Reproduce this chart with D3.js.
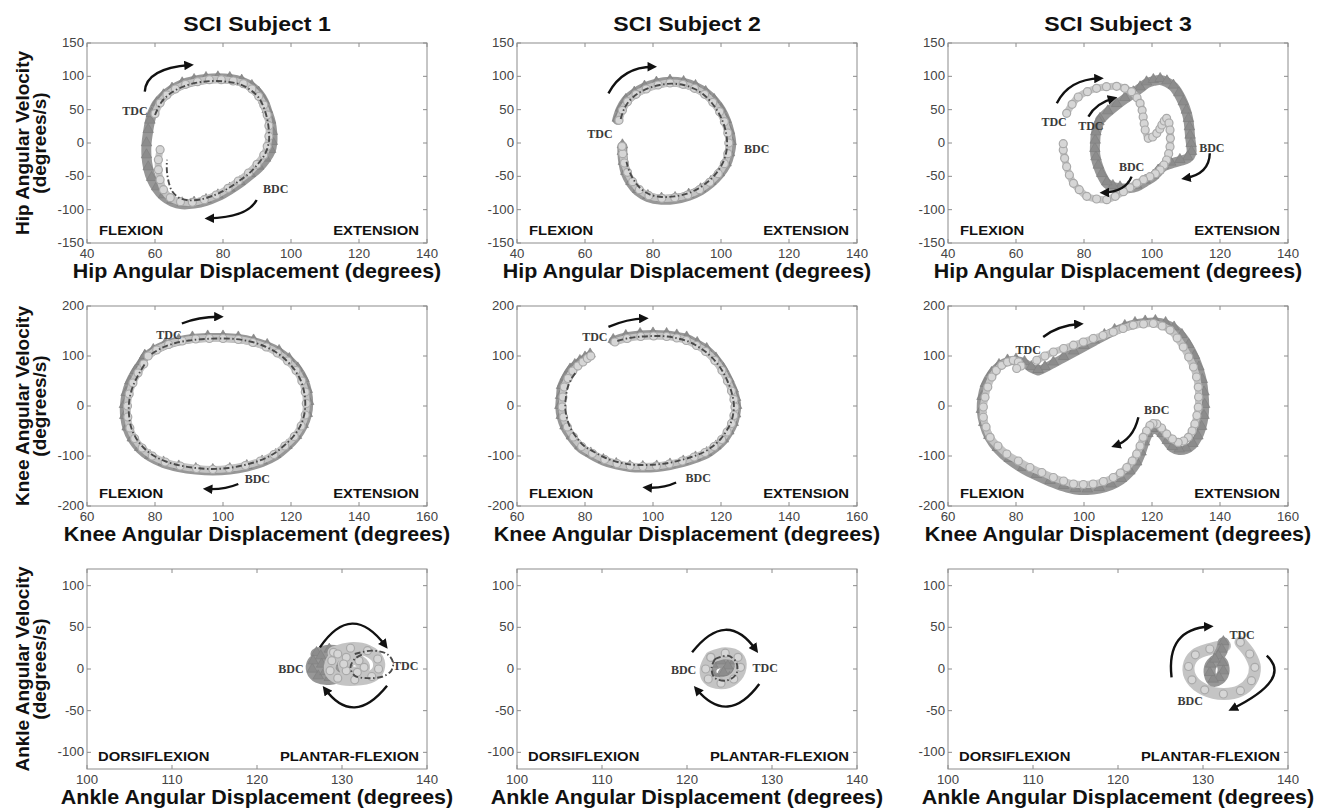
<!DOCTYPE html>
<html><head><meta charset="utf-8">
<script src="https://cdn.jsdelivr.net/npm/d3@7"></script>
<style>body{margin:0;background:#fff}svg{display:block}</style>
</head><body><svg id="c" width="1321" height="808"></svg>
<script>
// ---------- tick labels ----------
const subjects = ["SCI Subject 1", "SCI Subject 2", "SCI Subject 3"];
const hipXTicks = [40, 60, 80, 100, 120, 140];
const hipYTicks = [-150, -100, -50, 0, 50, 100, 150];
const kneeXTicks = [60, 80, 100, 120, 140, 160];
const kneeYTicks = [-200, -100, 0, 100, 200];
const ankleXTicks = [100, 110, 120, 130, 140];
const ankleYTicks = [-100, -50, 0, 50, 100];

// ---------- series: [angle (deg), angular velocity (deg/s)] ----------
const hip1Tri = [[59,42],[60.5,58],[62.5,70],[65,80],[68,88],[71.5,93],[75,96],[78.5,97],[82,96],[85.5,92],[88.5,84],[90.5,74],[92,62],[93,48],[94,32],[94.5,15],[94.5,0],[94,-12],[92.5,-25],[90.5,-37],[88,-48],[85,-60],[82,-70],[78.5,-80],[75,-87],[71.5,-91],[68,-92],[65,-88],[62.5,-80],[60.5,-68],[59,-54],[58,-38],[57.5,-20],[57.5,-2],[58,18],[58.5,32],[59,42]];
const hip1Circ = [[60,44],[61.5,60],[63.5,72],[66,81],[69,88],[72.5,92],[76,95],[79.5,95],[83,93],[86,89],[88.5,81],[90.5,70],[92,57],[93,42],[93.5,26],[93.5,10],[93,-5],[92,-18],[90,-32],[87.5,-45],[84.5,-57],[81.5,-68],[78,-78],[74.5,-85],[71,-89],[67.5,-88],[64.5,-82],[62.5,-70],[61.5,-55],[61,-40],[61,-25],[61.5,-10]];
const hip1Line = [[60,42],[62,62],[65,76],[69,86],[73,91],[77,93],[81,92],[85,88],[88,80],[90.5,68],[92,53],[93,36],[93.5,18],[93.5,2],[92.5,-15],[90.5,-30],[88,-44],[85,-56],[81.5,-68],[78,-77],[74,-84],[70,-86],[67,-82],[65,-72],[64,-58],[63.5,-42],[63.5,-25]];

const hip2Tri = [[69.5,35],[70.5,50],[72,63],[74.5,74],[77.5,83],[81,89],[85,92],[89,90],[92.5,84],[95.5,75],[98,63],[100,49],[101.5,33],[102.5,16],[103,0],[102.5,-17],[101.5,-32],[99.5,-47],[97,-60],[94,-71],[90.5,-79],[86.5,-84],[82.5,-85],[78.5,-81],[75.5,-72],[73.5,-60],[72,-45],[71.3,-30],[71,-15],[71,-5]];
const hip2Circ = [[70,34],[71,49],[72.5,62],[75,73],[78,81],[81.5,87],[85,90],[88.8,88],[92.2,82],[95.2,73],[97.6,61],[99.6,47],[101,32],[102,15],[102.3,0],[102,-16],[101,-31],[99.2,-46],[96.7,-59],[93.7,-70],[90.2,-78],[86.4,-82],[82.6,-83],[78.8,-79],[76,-70],[74,-58],[72.5,-44],[71.6,-30],[71.1,-16],[70.9,-5]];
const hip2Line = [[70.5,36],[71.5,51],[73,63],[75.5,74],[78.5,82],[82,87],[85.5,89],[89,87],[92.3,81],[95,72],[97.3,60],[99.2,46],[100.6,31],[101.5,15],[101.8,0],[101.5,-15],[100.5,-30],[98.8,-44],[96.4,-57],[93.4,-68],[90,-76],[86.3,-80],[82.7,-81],[79,-77],[76.3,-68],[74.4,-56],[73,-42],[72.2,-28]];

const hip3Circ = [[74.9,44.5],[76.5,58],[78.3,69],[81,77],[83.7,82],[86.6,84.5],[89.6,85],[92,82],[94,77],[95.6,68],[96.5,59.5],[97.1,49],[97.4,39],[97.7,29],[98,19.5],[98.9,7],[100.2,9],[101.4,14.5],[102.3,21],[102.9,27],[103.6,33],[104.3,37],[105,30],[105.3,19.5],[105.4,7],[105.3,-5.5],[104.9,-16],[104.3,-25.5],[103.5,-33],[102.4,-40.5],[101,-46],[99.4,-50.5],[97.5,-55],[95.5,-60.5],[93.5,-67],[91.6,-73],[89.2,-80],[86.7,-85],[83.7,-84],[80.8,-80],[78.6,-70],[76.9,-60.5],[75.7,-48],[74.9,-35.5],[74.3,-23],[73.9,-10.5],[73.9,-1]];
const hip3Tri = [[84.7,34.5],[87,46],[89.6,57],[92,66],[94.5,74.5],[96.5,82],[98.4,89.5],[100.4,93],[102.4,94.5],[104.4,91],[106.3,84.5],[107.9,73],[109.2,59.5],[110.1,47],[110.7,34.5],[111,22],[111.2,9.5],[111.5,-3],[111.6,-15],[110.5,-23],[108.2,-27],[105.5,-31],[103.3,-35.5],[101.8,-43],[100.4,-50.5],[98,-58],[95.5,-65.5],[93,-68],[90.6,-68],[88.5,-66],[86.7,-60.5],[85.2,-48],[84.2,-35.5],[83.5,-23],[83.2,-10.5],[83.3,2],[83.5,14.5],[84,24],[84.4,30]];

const knee1Tri = [[77,98],[79.5,110],[83,122],[87,130],[91,135],[95.5,137],[100,137],[104.5,135],[109,129],[113,120],[116.5,108],[119.5,92],[122,73],[123.8,52],[124.8,30],[125.2,6],[124.8,-18],[123.6,-40],[121.6,-62],[118.8,-82],[115.5,-100],[111.5,-113],[107,-122],[102,-128],[97,-130],[92,-128],[87,-123],[82.5,-115],[78.5,-102],[75.5,-86],[73.3,-67],[71.8,-45],[71.1,-22],[71,0],[71.5,24],[72.6,47],[74.2,68],[76,86],[77,98]];
const knee1Circ = [[78,100],[80.5,112],[84,123],[88,130],[92,134],[96,135],[100,135],[104.5,133],[108.8,127],[112.7,118],[116,106],[119,90],[121.5,71],[123.2,50],[124.2,28],[124.5,5],[124.2,-18],[123,-40],[121,-61],[118.2,-80],[115,-97],[111,-110],[106.6,-119],[101.8,-125],[97,-127],[92.2,-125],[87.4,-120],[83,-112],[79.2,-100],[76.2,-84],[74,-65],[72.6,-44],[72,-22],[71.9,0],[72.4,24],[73.5,46],[75,66],[76.7,84]];
const knee1Line = [[79,104],[82,116],[86,126],[90,131],[94.5,134],[99,135],[103.5,134],[108,129],[112,120],[115.5,108],[118.5,92],[121,73],[122.8,52],[123.8,30],[124.2,6],[123.9,-17],[122.8,-39],[120.8,-60],[118,-79],[114.8,-96],[110.8,-109],[106.4,-118],[101.6,-124],[96.8,-126],[92,-124],[87.4,-119],[83.2,-111],[79.5,-99],[76.6,-83],[74.4,-64],[73,-43],[72.4,-21],[72.3,1],[72.8,24],[73.9,46],[75.5,67],[77.3,87]];

const knee2Tri = [[88.3,130],[92,138],[96.2,142],[100,143],[104,142],[107,139],[109.9,135],[113,124],[115.8,112],[118.5,93],[120.7,72],[122.3,51],[123.6,31],[124.3,14],[124.6,-2],[124.3,-19],[123.6,-36],[122.3,-53],[120.7,-69],[118.5,-83],[115.8,-96],[112.5,-105],[108.9,-113],[105,-119],[101.1,-123],[97,-124],[93.2,-123],[89.2,-118],[85.4,-110],[81.7,-97],[78.5,-83],[76,-63],[74.1,-43],[73,-22],[72.6,-2],[72.8,18],[73.1,38],[74.2,55],[75.6,71],[77,80],[78.5,88],[80,95],[81.5,101]];
const knee2Circ = [[88.8,128],[92.4,135],[96.4,139],[100.2,140],[104,139],[107,136],[109.8,131],[112.8,121],[115.5,109],[118.2,91],[120.3,71],[121.9,50],[123.1,30],[123.8,13],[124.1,-2],[123.8,-19],[123.1,-35],[121.8,-52],[120.2,-67],[118,-81],[115.3,-93],[112.1,-102],[108.6,-110],[104.8,-116],[101,-120],[97,-121],[93.3,-120],[89.4,-115],[85.8,-107],[82.2,-95],[79,-81],[76.6,-62],[74.8,-42],[73.7,-22],[73.3,-2],[73.5,18],[73.9,38],[75,55],[76.4,70],[77.9,80],[79.4,88],[80.7,95],[81.7,100]];
const knee2Line = [[89.5,130],[93,136],[97,139],[100.5,140],[104.2,139],[107.4,135],[110.4,129],[113.2,119],[115.9,106],[118.4,89],[120.4,70],[121.9,50],[123,30],[123.6,13],[123.8,-2],[123.5,-19],[122.8,-35],[121.5,-51],[119.9,-66],[117.7,-80],[115,-92],[111.8,-101],[108.3,-108],[104.6,-114],[100.9,-117],[97,-118],[93.4,-117],[89.6,-112],[86.1,-104],[82.7,-92],[79.6,-79],[77.3,-61],[75.6,-42],[74.6,-22],[74.2,-2],[74.4,18],[74.9,37],[76,54],[77.5,69]];

const knee3Tri = [[86.5,70],[88.5,76],[91,85],[94,96],[97,107],[100,118],[103,129],[106,140],[109,150],[112,158],[115,164],[118,167],[121,168],[124,164],[126.5,155],[128.8,140],[130.8,120],[132.5,98],[133.8,75],[134.8,50],[135.3,25],[135.5,0],[135.3,-22],[134.6,-44],[133.5,-63],[132,-78],[130,-87],[128,-89],[126,-84],[124.5,-72],[123,-58],[121.5,-48],[120,-48],[118.8,-58],[117.8,-75],[116.8,-95],[115.5,-115],[113.5,-133],[111,-148],[108,-159],[104.5,-166],[101,-169],[97.5,-168],[94,-162],[90,-152],[86,-140],[82,-126],[78,-108],[74.5,-86],[72,-62],[70.5,-36],[69.8,-10],[70,16],[71,42],[72.8,64],[75,80],[77.5,89],[80,91],[82.5,86],[84.5,76],[86.5,70]];
const knee3Circ = [[86.1,91.5],[88.5,100],[91,108],[94,115],[96.9,121.6],[99.8,128],[102.7,135],[105.6,141],[108.6,148],[111.5,155],[114.5,161.8],[117.5,164],[120.4,165],[123,160],[125.3,151.8],[127.4,136],[129.2,118],[130.8,98],[132.2,78],[133.1,58],[133.6,37.8],[133.7,18],[133.6,-2.4],[133.2,-19],[132.6,-35.8],[131.8,-50],[130.7,-62.7],[129.3,-70],[127.7,-72.8],[126,-66],[124.3,-56],[122.8,-44],[121.4,-35.8],[120.3,-35],[119.4,-39],[118.4,-50],[117.4,-62.7],[116.5,-80],[115.5,-96],[114.2,-110],[112.6,-123],[110.7,-134],[108.6,-143],[105.7,-151],[102.7,-156],[99.8,-157],[96.9,-156],[94,-150],[91,-143],[87.6,-133],[84.1,-123],[80.7,-110],[77.3,-96],[74.7,-80],[72.4,-62.7],[71.2,-42],[70.4,-22.5],[70.4,-2],[70.9,17.7],[71.7,38],[72.9,58],[74.2,71],[75.8,81.4],[77.5,88],[79.2,91.5],[80.7,88],[81.5,80],[80.2,75]];

const ankle1Tri = [[127,18],[128.5,22],[130,19],[130.6,10],[130.5,0],[129.8,-8],[128.5,-12],[127.2,-10],[126.5,-2],[126.6,8],[127.5,14],[128.8,15],[129.5,6],[129,-4],[128,-5],[127.6,4]];
const ankle1Circ = [[129,20],[131,25],[133,22],[134.2,12],[134.3,0],[133.5,-9],[131.5,-13],[129.5,-11],[128.6,-2],[128.8,10],[129.5,18],[130.5,14],[132,10],[132.6,2],[131.8,-4],[130.5,-2],[130.2,6]];
const ankle1Line = [[131.5,18],[133.5,22],[135.3,18],[136,8],[135.8,-2],[134.8,-9],[133,-11],[131.5,-8],[131,2],[131.5,12],[132.5,18]];

const ankle2Tri = [[123,10],[124.5,14],[125.6,8],[125.8,-3],[125,-12],[123.6,-14],[122.8,-6],[123,4],[124,8],[124.8,2],[124.3,-6]];
const ankle2Circ = [[122.8,14],[124.5,19],[126,14],[126.3,2],[125.5,-12],[124,-17],[122.5,-12],[122.2,0],[122.8,14]];
const ankle2Line = [[123.3,12],[124.8,16],[125.8,8],[125.8,-6],[124.6,-14],[123.2,-10],[122.9,2],[123.3,12]];

const ankle3Circ = [[134.4,32],[135.5,18],[136.1,2],[135.7,-14],[134.4,-26],[132.4,-30],[130.2,-25],[128.7,-13],[128.3,3],[129.1,17],[130.8,24],[132.6,28]];
const ankle3Tri = [[132.4,31],[132.2,22],[131.8,14],[132.3,6],[132.4,-4],[131.9,-12],[131.2,-14],[130.8,-6],[130.9,4],[131.4,10]];

// ---------- annotations (text: [label, angle, velocity]; arrows: start, control, end) ----------
const hip1Notes = [["TDC",54.1,48.4],["BDC",95.5,-68]];
const hip1Arrows = [[[57,77],[57.35,112],[70.3,117]],[[89.9,-85.5],[87.2,-111.75],[75.7,-113]]];
const hip2Notes = [["TDC",64.4,14.5],["BDC",110.5,-8]];
const hip2Arrows = [[[66.9,74.5],[71.1,114.5],[80.1,114.4]]];
const hip3Notes = [["TDC",71.2,31.5],["TDC",82,26],["BDC",94,-35.5],["BDC",117.6,-6.5]];
const hip3Arrows = [[[72,59.5],[75.45,95.75],[84.7,97]],[[81.3,39.5],[83.5,60],[88.7,67]],[[94,-50.5],[92.15,-73.5],[85.7,-74.5]],[[117,-15.5],[116.85,-46.75],[109.7,-53]]];
const knee1Notes = [["TDC",84.1,141.7],["BDC",110.1,-146]];
const knee1Arrows = [[[87.9,165],[92.9,178.9],[99.1,178.5]],[[104.5,-156],[100.35,-167.8],[95.2,-166]]];
const knee2Notes = [["TDC",82.9,138],["BDC",113.3,-143]];
const knee2Arrows = [[[86.9,158.4],[92.35,174.15],[97.6,175.3]],[[106.8,-153],[102.8,-165.6],[98,-163]]];
const knee3Notes = [["TDC",83.6,111.5],["BDC",121.4,-7]];
const knee3Arrows = [[[88,138],[92.4,161.4],[98.8,164]],[[116,-22.5],[114.45,-67.65],[109.1,-79.4]]];
const ankle1Notes = [["BDC",124,0.2],["TDC",137.5,4.2]];
const ankle1Arrows = [[[127.4,26],[131.15,82],[135.1,28]],[[135.3,-20],[131.35,-70],[128,-24]]];
const ankle2Notes = [["BDC",119.6,-1],["TDC",129.2,1.8]];
const ankle2Arrows = [[[120.6,20],[124.65,72.5],[128.1,23]],[[128.5,-18],[124.8,-69],[121.1,-24]]];
const ankle3Notes = [["TDC",134.6,41.6],["BDC",128.5,-38.4]];
const ankle3Arrows = [[[126.3,-10],[125.65,48.3],[130.8,51]],[[137.5,16],[140.55,-12],[133.4,-48]]];

// ---------- layout ----------
const colLeft = [87, 517, 948], plotW = 340, plotH = 200, SX = 1.1;
const rowsCfg = [
  {top:43, xDom:[40,140], yDom:[-150,150], xT:hipXTicks, yT:hipYTicks, xLabel:"Hip Angular Displacement (degrees)", yLabel:["Hip Angular Velocity","(degrees/s)"], dir:["FLEXION","EXTENSION"], tb:10, cb:7},
  {top:306, xDom:[60,160], yDom:[-200,200], xT:kneeXTicks, yT:kneeYTicks, xLabel:"Knee Angular Displacement (degrees)", yLabel:["Knee Angular Velocity","(degrees/s)"], dir:["FLEXION","EXTENSION"], tb:9, cb:7},
  {top:569, xDom:[100,140], yDom:[-120,120], xT:ankleXTicks, yT:ankleYTicks, xLabel:"Ankle Angular Displacement (degrees)", yLabel:["Ankle Angular Velocity","(degrees/s)"], dir:["DORSIFLEXION","PLANTAR-FLEXION"], tb:12, cb:12}
];
const panels = [
  {r:0,c:0,s:[[hip1Tri,"tri"],[hip1Circ,"circ"],[hip1Line,"line"]],n:hip1Notes,a:hip1Arrows},
  {r:0,c:1,s:[[hip2Tri,"tri"],[hip2Circ,"circ"],[hip2Line,"line"]],n:hip2Notes,a:hip2Arrows},
  {r:0,c:2,s:[[hip3Tri,"tri"],[hip3Circ,"circ"]],n:hip3Notes,a:hip3Arrows},
  {r:1,c:0,s:[[knee1Tri,"tri"],[knee1Circ,"circ"],[knee1Line,"line"]],n:knee1Notes,a:knee1Arrows},
  {r:1,c:1,s:[[knee2Tri,"tri"],[knee2Circ,"circ"],[knee2Line,"line"]],n:knee2Notes,a:knee2Arrows},
  {r:1,c:2,s:[[knee3Tri,"tri"],[knee3Circ,"circ"]],n:knee3Notes,a:knee3Arrows},
  {r:2,c:0,s:[[ankle1Tri,"tri"],[ankle1Circ,"circ"],[ankle1Line,"line"]],n:ankle1Notes,a:ankle1Arrows},
  {r:2,c:1,s:[[ankle2Tri,"tri"],[ankle2Circ,"circ"],[ankle2Line,"line"]],n:ankle2Notes,a:ankle2Arrows},
  {r:2,c:2,s:[[ankle3Circ,"circ"],[ankle3Tri,"tri"]],n:ankle3Notes,a:ankle3Arrows}
];

const svg = d3.select("#c");
svg.append("rect").attr("width",1321).attr("height",808).attr("fill","#fff");
const defs = svg.append("defs");
defs.append("marker").attr("id","ah").attr("viewBox","0 0 10 10").attr("refX",6).attr("refY",5)
  .attr("markerWidth",4.2).attr("markerHeight",4).attr("orient","auto")
  .append("path").attr("d","M0,0 L10,5 L0,10 z").attr("fill","#111");

function txt(g, x, y, s, o) {
  const t = g.append("text").text(s)
    .attr("transform", `translate(${x},${y}) scale(${o.sx||1},1)` + (o.rot ? ` rotate(${o.rot})` : ""))
    .attr("font-family", o.family || "Arimo, 'Liberation Sans', Arial, sans-serif")
    .attr("font-size", o.size).attr("font-weight", o.weight || "normal")
    .attr("text-anchor", o.anchor || "start").attr("fill", o.fill || "#111");
  if (o.dy) t.attr("dy", o.dy);
  return t;
}

subjects.forEach((s,i) => txt(svg, colLeft[i] + plotW/2, 31, s, {size:21, weight:"bold", anchor:"middle", sx:SX}));

panels.forEach(p => {
  const R = rowsCfg[p.r], L = colLeft[p.c], T = R.top, B = T + plotH;
  const x = d3.scaleLinear().domain(R.xDom).range([L, L + plotW]);
  const y = d3.scaleLinear().domain(R.yDom).range([B, T]);
  const g = svg.append("g");
  g.append("rect").attr("x",L).attr("y",T).attr("width",plotW).attr("height",plotH)
    .attr("fill","#fff").attr("stroke","#8c8c8c").attr("stroke-width",1);
  R.xT.forEach(t => {
    const px = x(t);
    g.append("line").attr("x1",px).attr("x2",px).attr("y1",B).attr("y2",B-4).attr("stroke","#8c8c8c");
    g.append("line").attr("x1",px).attr("x2",px).attr("y1",T).attr("y2",T+4).attr("stroke","#8c8c8c");
    txt(g, px, B + 14.5, String(t), {size:12, anchor:"middle", fill:"#444", sx:SX});
  });
  R.yT.forEach(t => {
    const py = y(t);
    g.append("line").attr("x1",L).attr("x2",L+4).attr("y1",py).attr("y2",py).attr("stroke","#8c8c8c");
    g.append("line").attr("x1",L+plotW).attr("x2",L+plotW-4).attr("y1",py).attr("y2",py).attr("stroke","#8c8c8c");
    txt(g, L - 3, py, String(t), {size:12, anchor:"end", fill:"#444", sx:SX, dy:"0.33em"});
  });

  const line = d3.line().x(d => x(d[0])).y(d => y(d[1])).curve(d3.curveCatmullRom.alpha(0.5));
  p.s.forEach(([pts, type]) => {
    if (type === "tri") {
      g.append("path").attr("d", line(pts)).attr("fill","none").attr("stroke","#979797")
        .attr("stroke-width",R.tb).attr("stroke-linejoin","round").attr("stroke-linecap","round");
      const sym = d3.symbol(d3.symbolTriangle, 48);
      g.selectAll(null).data(pts).join("path").attr("d", sym)
        .attr("transform", d => `translate(${x(d[0])},${y(d[1]) - 1.5})`)
        .attr("fill","#8c8c8c").attr("stroke","#7d7d7d").attr("stroke-width",0.6);
    } else if (type === "circ") {
      g.append("path").attr("d", line(pts)).attr("fill","none").attr("stroke","#c4c4c4")
        .attr("stroke-width",R.cb).attr("stroke-linejoin","round").attr("stroke-linecap","round");
      g.selectAll(null).data(pts).join("circle").attr("cx", d => x(d[0])).attr("cy", d => y(d[1]))
        .attr("r",4).attr("fill","#d6d6d6").attr("stroke","#a9a9a9").attr("stroke-width",1.2);
    } else {
      g.append("path").attr("d", line(pts)).attr("fill","none").attr("stroke","#4a4a4a")
        .attr("stroke-width",1.9).attr("stroke-dasharray","6,2.5,1.5,2.5");
    }
  });

  p.n.forEach(([s, a, v]) => txt(g, x(a), y(v), s, {size:12, weight:"bold", anchor:"middle", fill:"#3a3a3a",
    family:"'Liberation Serif','Times New Roman',serif", dy:"0.35em"}));

  p.a.forEach(([s, c, e]) => {
    g.append("path").attr("d", `M${x(s[0])},${y(s[1])} Q${x(c[0])},${y(c[1])} ${x(e[0])},${y(e[1])}`)
      .attr("fill","none").attr("stroke","#111").attr("stroke-width",2.4).attr("marker-end","url(#ah)");
  });

  txt(g, L + (p.r === 2 ? 11 : 12), B - 8, R.dir[0], {size:13.5, weight:"bold", sx:SX});
  txt(g, L + plotW - 8, B - 8, R.dir[1], {size:13.5, weight:"bold", anchor:"end", sx:SX});

  txt(g, L + plotW/2, B + 35, R.xLabel, {size:19.5, weight:"bold", anchor:"middle", sx:SX});
  if (p.c === 0) {
    const cy = T + plotH/2;
    txt(g, 29, cy, R.yLabel[0], {size:19, weight:"bold", anchor:"middle", rot:-90});
    txt(g, 46, cy, R.yLabel[1], {size:19, weight:"bold", anchor:"middle", rot:-90});
  }
});
</script></body></html>
